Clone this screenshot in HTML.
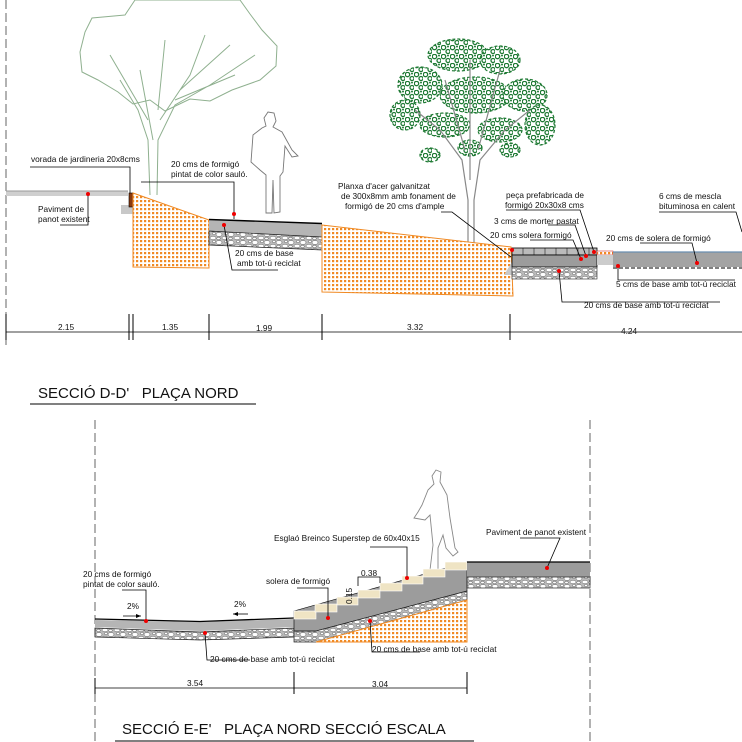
<!DOCTYPE html>
<html><head><meta charset="utf-8"><style>
html,body{margin:0;padding:0;background:#fff}
svg{display:block}
text{font-family:"Liberation Sans",sans-serif;font-size:8.3px;fill:#111}
.t{font-size:15px}
</style></head><body>
<svg width="742" height="742" viewBox="0 0 742 742" xmlns="http://www.w3.org/2000/svg">
<defs>
<pattern id="or" width="4" height="4" patternUnits="userSpaceOnUse">
<rect width="4" height="4" fill="#fff"/><rect x="0" y="0" width="2.2" height="2.2" fill="#f08a24"/>
</pattern>
<pattern id="gr" width="12" height="8" patternUnits="userSpaceOnUse">
<rect width="12" height="8" fill="#bbb"/>
<ellipse cx="3" cy="2.5" rx="3" ry="2" fill="#fff" stroke="#555" stroke-width="0.5"/>
<ellipse cx="9" cy="6" rx="3" ry="1.8" fill="#fff" stroke="#555" stroke-width="0.5"/>
<ellipse cx="10" cy="1.5" rx="1.6" ry="1.2" fill="#fff" stroke="#555" stroke-width="0.5"/>
<ellipse cx="2.5" cy="6.5" rx="1.8" ry="1.3" fill="#fff" stroke="#555" stroke-width="0.5"/>
</pattern>
<pattern id="lf" width="9" height="9" patternUnits="userSpaceOnUse">
<rect width="9" height="9" fill="#fff"/>
<circle cx="2.5" cy="2.5" r="2.2" fill="none" stroke="#1f7a34" stroke-width="1.3"/>
<circle cx="7" cy="6.5" r="2" fill="none" stroke="#1f7a34" stroke-width="1.3"/>
<circle cx="7" cy="1.5" r="1" fill="#1f7a34"/>
</pattern>
</defs>

<!-- ===== TOP SECTION ===== -->
<line x1="6" y1="0" x2="6" y2="345" stroke="#666" stroke-dasharray="9,4" stroke-width="1"/>

<!-- left tree -->
<g fill="none" stroke="#8fb08f" stroke-width="1">
<path d="M125,15 L92,18 L85,32 L80,52 L82,72 L98,80 L118,92 L133,104 L150,100 L165,111 L190,99 L210,101 L232,90 L260,80 L276,66 L277,46 L262,30 L250,14 L240,0 L135,0 Z"/>
<path d="M150,195 L148,140 L138,110 L120,80 M157,195 L158,140 L175,105 L210,85 L255,55 M153,140 L140,70 M160,120 L190,75 L205,35 M158,110 L165,40 M148,120 L110,55 M175,100 L235,75 M180,90 L230,45"/>
</g>

<!-- man top -->
<path fill="none" stroke="#777" stroke-width="0.9" d="M266,213 L266,175 L260,170 L251,162 L253,135 L262,128 L266,126 L264,118 L268,112 L274,113 L276,121 L273,127 L282,132 L292,150 L298,156 L292,157 L285,146 L283,172 L280,176 L280,212 L274,213 L273,180 L272,213 Z"/>

<!-- right tree -->
<g fill="url(#lf)" stroke="#1f7a34" stroke-width="1.2" stroke-dasharray="3,2">
<ellipse cx="458" cy="55" rx="30" ry="16"/>
<ellipse cx="500" cy="60" rx="20" ry="14"/>
<ellipse cx="420" cy="85" rx="22" ry="18"/>
<ellipse cx="475" cy="95" rx="35" ry="18"/>
<ellipse cx="525" cy="95" rx="22" ry="16"/>
<ellipse cx="405" cy="115" rx="15" ry="15"/>
<ellipse cx="540" cy="125" rx="15" ry="20"/>
<ellipse cx="445" cy="125" rx="25" ry="12"/>
<ellipse cx="500" cy="130" rx="22" ry="12"/>
<ellipse cx="430" cy="155" rx="10" ry="7"/>
<ellipse cx="470" cy="148" rx="12" ry="8"/>
<ellipse cx="510" cy="150" rx="10" ry="7"/>
</g>
<g fill="none" stroke="#888" stroke-width="1.2">
<path d="M468,265 L468,200 L462,160 L440,130 L415,110 M474,265 L474,200 L480,160 L505,130 L530,110 M470,180 L470,60 M465,150 L445,80 M478,150 L500,70"/>
</g>

<!-- existing pavement -->
<rect x="6" y="191" width="122" height="5" fill="#cfcfcf"/>
<line x1="6" y1="191" x2="128" y2="191" stroke="#999"/>
<rect x="121" y="205" width="17" height="9" fill="#c8c8c8"/>
<rect x="129" y="193" width="4" height="14" fill="#8a3a10" stroke="#000" stroke-width="0.6"/>

<!-- orange 1 -->
<polygon points="133,193 209,220 209,268 133,267" fill="url(#or)" stroke="#f08a24" stroke-width="1"/>
<!-- walkway -->
<polygon points="209,220 322,224 322,237 209,231" fill="#b5b5b5"/>
<line x1="209" y1="219.5" x2="322" y2="223.5" stroke="#000" stroke-width="1.4"/>
<polygon points="209,231 322,237 322,250 209,245" fill="url(#gr)" stroke="#222" stroke-width="0.7"/>
<!-- orange 2 -->
<polygon points="322,225 511,247 513,296 322,292" fill="url(#or)" stroke="#f08a24" stroke-width="1"/>

<!-- right block -->
<polygon points="504,275 512,262 514,275" fill="#c8c8c8"/>
<rect x="512" y="248" width="85" height="7" fill="#bbb" stroke="#000" stroke-width="0.8"/>
<g stroke="#000" stroke-width="0.5"><line x1="523" y1="248" x2="523" y2="255"/><line x1="534" y1="248" x2="534" y2="255"/><line x1="545" y1="248" x2="545" y2="255"/><line x1="556" y1="248" x2="556" y2="255"/><line x1="567" y1="248" x2="567" y2="255"/><line x1="578" y1="248" x2="578" y2="255"/><line x1="589" y1="248" x2="589" y2="255"/></g>
<rect x="512" y="255" width="85" height="12" fill="#9c9c9c" stroke="#000" stroke-width="0.8"/>
<rect x="512" y="267" width="85" height="12" fill="url(#gr)" stroke="#222" stroke-width="0.6"/>
<rect x="597" y="251" width="16" height="4" fill="url(#or)" stroke="#c33" stroke-width="0.6"/>
<rect x="597" y="255" width="16" height="10" fill="#ccc"/>
<rect x="613" y="252" width="129" height="15" fill="#a3a3a3"/>
<line x1="613" y1="252" x2="742" y2="252" stroke="#6a8fb0" stroke-width="1.3"/>
<line x1="613" y1="268" x2="742" y2="268" stroke="#555" stroke-dasharray="4,2" stroke-width="1.5"/>
<circle cx="512" cy="250" r="2" fill="#e00"/>

<!-- top leaders -->
<g stroke="#000" stroke-width="0.8" fill="none">
<polyline points="30,167 130,167 130,193"/>
<polyline points="60,225 88,225 88,194"/>
<polyline points="141,182 234,182 234,219"/>
<polyline points="224,225 232,270 278,270"/>
<polyline points="441,212 452,212 511,257"/>
<polyline points="506,210 580,210 594,252"/>
<polyline points="548,225 575,225 586,256"/>
<polyline points="530,240 573,240 581,259"/>
<polyline points="659,212 736,212 742,232"/>
<polyline points="640,243 692,243 697,263"/>
<polyline points="618,266 618,280 735,280"/>
<polyline points="559,271 562,302 720,302"/>
</g>
<g fill="#e00">
<circle cx="88" cy="194" r="2"/><circle cx="234" cy="214" r="2"/><circle cx="224" cy="225" r="2"/>
<circle cx="594" cy="252" r="2"/><circle cx="586" cy="256" r="2"/><circle cx="581" cy="259" r="2"/>
<circle cx="697" cy="263" r="2"/><circle cx="618" cy="266" r="2"/><circle cx="559" cy="271" r="2"/>
</g>
<text x="31" y="162">vorada de jardineria 20x8cms</text>
<text x="38" y="212">Paviment de</text><text x="38" y="222">panot existent</text>
<text x="171" y="167">20 cms de formigó</text><text x="171" y="177">pintat de color sauló.</text>
<text x="235" y="256">20 cms de base</text><text x="237" y="266">amb tot-ú reciclat</text>
<text x="338" y="189">Planxa d'acer galvanitzat</text>
<text x="341" y="199">de 300x8mm amb fonament de</text>
<text x="345" y="209">formigó de 20 cms d'ample</text>
<text x="506" y="198">peça prefabricada de</text><text x="505" y="208">formigó 20x30x8 cms</text>
<text x="494" y="224">3 cms de morter pastat</text>
<text x="490" y="238">20 cms solera formigó</text>
<text x="659" y="199">6 cms de mescla</text><text x="659" y="209">bituminosa en calent</text>
<text x="606" y="241">20 cms de solera de formigó</text>
<text x="616" y="287">5 cms de base amb tot-ú reciclat</text>
<text x="584" y="308">20 cms de base amb tot-ú reciclat</text>

<!-- top dims -->
<g stroke="#000" stroke-width="1">
<line x1="6" y1="332" x2="742" y2="332" stroke-width="0.8"/>
<line x1="6" y1="314" x2="6" y2="340"/><line x1="129" y1="314" x2="129" y2="340"/><line x1="133" y1="314" x2="133" y2="340"/>
<line x1="209" y1="314" x2="209" y2="340"/><line x1="322" y1="314" x2="322" y2="340"/><line x1="510" y1="314" x2="510" y2="340"/>
</g>
<text x="58" y="330">2.15</text><text x="162" y="330">1.35</text><text x="256" y="331">1.99</text><text x="407" y="330">3.32</text><text x="621" y="334">4.24</text>
<text class="t" x="38" y="398">SECCIÓ D-D'&#160;&#160;&#160;PLAÇA NORD</text>
<line x1="30" y1="404" x2="256" y2="404" stroke="#000" stroke-width="1"/>

<!-- ===== BOTTOM SECTION ===== -->
<line x1="95" y1="420" x2="95" y2="742" stroke="#666" stroke-dasharray="9,4"/>
<line x1="590" y1="420" x2="590" y2="742" stroke="#666" stroke-dasharray="9,4"/>

<!-- man stairs -->
<path fill="none" stroke="#888" stroke-width="0.9" d="M430,570 L433,545 L430,515 L425,520 L414,518 L418,512 L422,505 L428,490 L434,484 L432,476 L436,470 L441,472 L440,482 L447,495 L450,518 L455,548 L458,552 L453,556 L446,548 L443,535 L438,548 L438,570 Z"/>

<!-- left pavement -->
<polygon points="95,620 200,622 294,619 294,627 200,631 95,627" fill="#b5b5b5"/>
<polyline points="95,619 200,621.5 294,618" fill="none" stroke="#000" stroke-width="1.3"/>
<polygon points="95,628 200,632 294,628 294,637 200,640 95,637" fill="url(#gr)" stroke="#222" stroke-width="0.7"/>

<!-- stair concrete body -->
<polygon points="294,611 467,562 467,591 316,631 294,631" fill="#9c9c9c" stroke="#000" stroke-width="0.6"/>
<polygon points="294,631 316,631 467,591 467,600 316,642 294,642" fill="url(#gr)" stroke="#222" stroke-width="0.7"/>
<polygon points="316,642 467,600 467,642" fill="url(#or)" stroke="#f08a24" stroke-width="1"/>
<!-- steps -->
<g fill="#efe4c4" stroke="#fff" stroke-width="0.6">
<rect x="294" y="611" width="22" height="8"/>
<rect x="315" y="604" width="22" height="8"/>
<rect x="337" y="597" width="21" height="8"/>
<rect x="358" y="590" width="22" height="8"/>
<rect x="380" y="583" width="22" height="8"/>
<rect x="402" y="576" width="21" height="8"/>
<rect x="423" y="569" width="22" height="8"/>
<rect x="445" y="562" width="22" height="8"/>
</g>
<!-- right platform -->
<rect x="467" y="562" width="123" height="15" fill="#9c9c9c"/>
<line x1="467" y1="562" x2="590" y2="562" stroke="#000" stroke-width="1.3"/>
<rect x="467" y="577" width="123" height="11" fill="url(#gr)" stroke="#222" stroke-width="0.7"/>

<!-- bottom leaders -->
<g stroke="#000" stroke-width="0.8" fill="none">
<polyline points="122,590 146,590 146,621"/>
<polyline points="205,633 207,660 250,660"/>
<polyline points="297,588 328,588 328,618"/>
<polyline points="370,547 407,547 407,578"/>
<polyline points="520,538 560,538 547,568"/>
<polyline points="370,621 372,652 420,652"/>
<polyline points="358,586 358,577 380,577 380,583"/>
<line x1="123" y1="616" x2="141" y2="616"/><line x1="233" y1="614" x2="248" y2="614"/>
</g>
<polygon points="141,616 136,614 136,618" fill="#000"/>
<polygon points="233,614 238,612 238,616" fill="#000"/>
<g fill="#e00">
<circle cx="146" cy="621" r="2"/><circle cx="205" cy="633" r="2"/><circle cx="328" cy="618" r="2"/>
<circle cx="407" cy="578" r="2"/><circle cx="547" cy="568" r="2"/><circle cx="370" cy="621" r="2"/>
</g>
<text x="83" y="577">20 cms de formigó</text><text x="83" y="587">pintat de color sauló.</text>
<text x="127" y="609">2%</text><text x="234" y="607">2%</text>
<text x="210" y="662">20 cms de base amb tot-ú reciclat</text>
<text x="266" y="584">solera de formigó</text>
<text x="274" y="541">Esglaó Breinco Superstep de 60x40x15</text>
<text x="361" y="576">0.38</text>
<text x="0" y="0" transform="translate(352,604) rotate(-90)">0.15</text>
<text x="486" y="535">Paviment de panot existent</text>
<text x="372" y="652">20 cms de base amb tot-ú reciclat</text>

<!-- bottom dims -->
<g stroke="#000" stroke-width="1">
<line x1="95" y1="688" x2="467" y2="688" stroke-width="0.8"/>
<line x1="95" y1="678" x2="95" y2="694"/><line x1="294" y1="672" x2="294" y2="694"/><line x1="467" y1="672" x2="467" y2="694"/>
</g>
<text x="187" y="686">3.54</text><text x="372" y="687">3.04</text>
<text class="t" x="122" y="734">SECCIÓ E-E'&#160;&#160;&#160;PLAÇA NORD SECCIÓ ESCALA</text>
<line x1="115" y1="741" x2="474" y2="741" stroke="#000" stroke-width="1"/>
</svg>
</body></html>
